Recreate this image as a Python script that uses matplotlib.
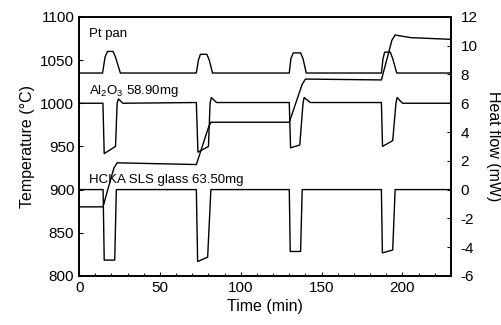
import matplotlib
matplotlib.use("Agg")
import matplotlib.pyplot as plt
from matplotlib.ticker import MultipleLocator

plt.rcParams['font.family'] = ['Liberation Sans', 'DejaVu Sans']
plt.rcParams['axes.unicode_minus'] = False
plt.rcParams['mathtext.fontset'] = 'custom'
plt.rcParams['mathtext.rm'] = 'Liberation Sans'

# temperature program (left axis)
temp_t = [0, 14.8, 16.5, 21.5, 23.5, 72.5, 80.0, 81.5, 130.0, 138.0, 140.0, 187.0, 193.5, 195.5, 205, 230]
temp_v = [880, 880, 892, 925, 931, 929, 972, 978, 978, 1022, 1028, 1027, 1073, 1079, 1076, 1074]

# heat flow curves (right axis)
pt_t = [0, 14.5, 16.0, 17.5, 21.0, 22.5, 25.5,
        72.5, 73.8, 75.0, 79.0, 80.5, 82.5,
        130.0, 131.0, 132.5, 137.0, 138.5, 140.5,
        187.0, 188.0, 189.0, 192.5, 194.0, 196.5, 230]
pt_v = [8.1, 8.1, 9.2, 9.6, 9.6, 9.2, 8.1,
        8.1, 9.0, 9.4, 9.4, 9.0, 8.1,
        8.1, 9.1, 9.5, 9.5, 9.1, 8.1,
        8.1, 9.1, 9.55, 9.55, 9.1, 8.1, 8.1]

al_t = [0, 14.7, 15.5, 22.5, 23.5, 24.3, 27.0,
        72.5, 73.5, 80.0, 81.0, 81.8, 85.0,
        130.0, 130.8, 136.5, 138.5, 139.2, 143.0,
        187.0, 187.7, 194.0, 196.0, 196.7, 200.0, 230]
al_v = [6.0, 6.0, 2.5, 3.0, 6.0, 6.3, 6.0,
        6.05, 2.6, 3.0, 6.0, 6.4, 6.05,
        6.05, 2.9, 3.1, 6.0, 6.4, 6.05,
        6.05, 3.0, 3.4, 6.0, 6.4, 6.0, 6.0]

gl_t = [0, 14.8, 15.5, 22.0, 23.0,
        72.5, 73.3, 79.5, 81.5,
        130.0, 130.6, 137.0, 138.0,
        187.0, 187.6, 194.0, 195.5, 230]
gl_v = [0.0, 0.0, -4.9, -4.9, 0.0,
        0.0, -5.0, -4.7, 0.0,
        0.0, -4.3, -4.3, 0.0,
        0.0, -4.4, -4.2, 0.0, 0.0]

fig = plt.figure(figsize=(5.01, 3.25), dpi=100)
ax = fig.add_axes([0.158, 0.151, 0.742, 0.797])
ax2 = ax.twinx()

ax.plot(temp_t, temp_v, color='black', lw=1.0)
ax2.plot(pt_t, pt_v, color='black', lw=1.0)
ax2.plot(al_t, al_v, color='black', lw=1.0)
ax2.plot(gl_t, gl_v, color='black', lw=1.0)

ax.set_xlim(0, 230)
ax.set_ylim(800, 1100)
ax2.set_ylim(-6, 12)
ax.xaxis.set_major_locator(MultipleLocator(50))
ax.xaxis.set_minor_locator(MultipleLocator(10))
ax.yaxis.set_major_locator(MultipleLocator(50))
ax2.yaxis.set_major_locator(MultipleLocator(2))

ax.tick_params(axis='both', which='major', direction='in', length=3, labelsize=11, width=0.8)
ax.tick_params(axis='x', which='minor', direction='in', length=2, width=0.8)
ax.tick_params(axis='y', right=False)
ax2.tick_params(axis='y', direction='in', length=3, labelsize=11, width=0.8, pad=7)
for a in (ax, ax2):
    for s in a.spines.values():
        s.set_linewidth(1.2)

ax.set_xlabel('Time (min)', fontsize=11.5, labelpad=3)
ax.set_ylabel('Temperature (\u00b0C)', fontsize=11.5, labelpad=4)
ax2.set_ylabel('Heat flow (mW)', fontsize=11.5, rotation=270, labelpad=17)

ax.text(6, 1080, 'Pt pan', fontsize=9.5, va='center')
ax.text(6, 1014, 'Al$_2$O$_3$ 58.90mg', fontsize=9.5, va='center')
ax.text(6, 911, 'HCKA SLS glass 63.50mg', fontsize=9.5, va='center')

fig.savefig('out.png', dpi=100)
